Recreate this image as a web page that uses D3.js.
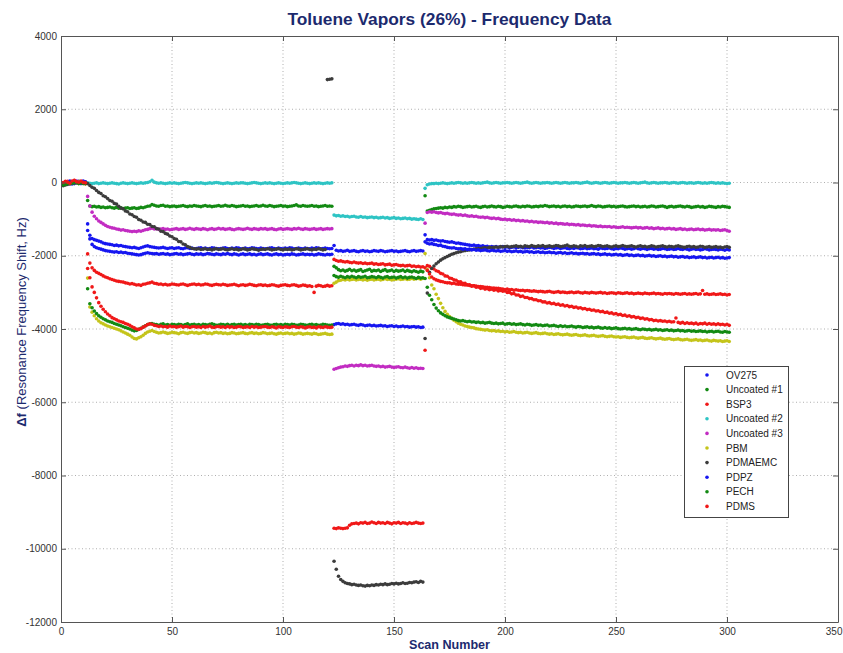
<!DOCTYPE html>
<html><head><meta charset="utf-8">
<script src="https://cdn.jsdelivr.net/npm/d3@7"></script>
<style>body{margin:0;background:#fff} text{font-family:"Liberation Sans",Arial,sans-serif}</style>
</head><body><svg id="c" width="843" height="653"></svg>
<script>
// ---------- DATA (scan numbers 1..301) ----------
const seriesNames = ["OV275","Uncoated #1","BSP3","Uncoated #2","Uncoated #3","PBM","PDMAEMC","PDPZ","PECH","PDMS"];
const seriesColors = ["#1616f0","#138a13","#f01818","#2ec4c4","#c22cc2","#c4c41a","#3c3c3c","#1616f0","#138a13","#f01818"];
const xTicks = [0,50,100,150,200,250,300,350];
const yTicks = [4000,2000,0,-2000,-4000,-6000,-8000,-10000,-12000];

const OV275 = [
-30,-10,20,0,-40,10,30,-20,0,40,-10,
-1130,-1440,-1530,-1560,-1580,-1600,-1620,-1650,-1670,-1680,
-1690,-1700,-1720,-1710,-1730,-1720,-1740,-1750,-1760,-1770,
-1780,-1770,-1790,-1800,-1780,-1760,-1740,-1730,-1750,-1760,
-1770,-1780,-1790,-1780,-1770,-1790,-1800,-1790,-1780,-1800,
-1790,-1780,-1800,-1810,-1790,-1780,-1800,-1790,-1810,-1800,
-1790,-1780,-1800,-1790,-1810,-1800,-1780,-1790,-1800,-1810,
-1800,-1790,-1780,-1800,-1810,-1790,-1800,-1780,-1790,-1810,
-1800,-1790,-1810,-1800,-1780,-1790,-1800,-1810,-1790,-1800,
-1810,-1800,-1790,-1780,-1800,-1810,-1790,-1800,-1810,-1790,
-1800,-1780,-1790,-1810,-1800,-1790,-1800,-1810,-1790,-1800,
-1810,-1790,-1800,-1780,-1790,-1810,-1800,-1790,-1800,-1810,
-1800,
-1720,-1850,-1870,-1860,-1880,-1870,-1850,-1880,-1870,-1860,
-1880,-1890,-1870,-1860,-1880,-1870,-1890,-1880,-1860,-1870,
-1880,-1860,-1870,-1890,-1880,-1870,-1860,-1880,-1870,-1890,
-1880,-1870,-1860,-1880,-1890,-1870,-1860,-1880,-1870,-1860,
-1870,
-1430,
-1560,-1570,-1560,-1580,-1570,-1590,-1600,-1590,-1610,-1620,
-1630,-1620,-1640,-1660,-1650,-1670,-1680,-1690,-1700,-1710,
-1720,-1710,-1730,-1720,-1740,-1730,-1750,-1740,-1760,-1750,
-1760,-1750,-1770,-1760,-1750,-1770,-1760,-1780,-1770,-1760,
-1780,-1770,-1760,-1780,-1790,-1770,-1780,-1760,-1790,-1780,
-1770,-1790,-1780,-1800,-1790,-1770,-1780,-1800,-1790,-1780,
-1800,-1790,-1780,-1800,-1810,-1790,-1800,-1780,-1790,-1810,
-1800,-1790,-1810,-1800,-1790,-1810,-1800,-1820,-1790,-1800,
-1810,-1800,-1790,-1810,-1820,-1800,-1810,-1790,-1800,-1820,
-1810,-1800,-1820,-1810,-1790,-1810,-1820,-1800,-1810,-1830,
-1810,-1800,-1820,-1810,-1830,-1820,-1800,-1810,-1830,-1820,
-1810,-1830,-1820,-1800,-1820,-1830,-1810,-1820,-1840,-1820,
-1810,-1830,-1820,-1840,-1830,-1810,-1820,-1840,-1830,-1820,
-1830,-1840,-1820,-1830,-1850,-1830,-1840
];

const Uncoated1 = [
-60,-40,-20,10,-10,20,0,-30,10,0,-20,
-490,-640,-660,-650,-670,-660,-680,-670,-690,-680,
-670,-690,-700,-680,-700,-690,-710,-700,-690,-710,
-700,-690,-710,-700,-680,-690,-670,-650,-640,-600,
-620,-640,-650,-630,-620,-650,-640,-660,-650,-640,
-660,-650,-640,-630,-650,-660,-640,-650,-630,-640,
-650,-660,-640,-630,-650,-640,-660,-650,-640,-630,
-650,-640,-620,-640,-650,-630,-640,-660,-650,-640,
-630,-650,-640,-660,-650,-640,-630,-650,-640,-620,
-640,-650,-630,-640,-660,-650,-640,-630,-650,-640,
-660,-650,-640,-630,-610,-640,-650,-630,-640,-650,
-640,-630,-650,-640,-660,-650,-640,-630,-650,-640,
-650,
-2290,-2330,-2380,-2410,-2390,-2420,-2400,-2370,-2410,-2390,
-2420,-2400,-2380,-2430,-2410,-2390,-2370,-2420,-2400,-2410,
-2390,-2430,-2400,-2380,-2420,-2410,-2390,-2430,-2400,-2420,
-2410,-2390,-2430,-2400,-2420,-2440,-2410,-2430,-2450,-2420,
-2440,
-360,
-780,-760,-740,-720,-710,-700,-690,-700,-680,-690,
-670,-680,-660,-670,-650,-660,-680,-670,-660,-650,
-670,-660,-650,-670,-680,-660,-650,-670,-660,-640,
-660,-670,-650,-660,-680,-670,-650,-660,-670,-650,
-640,-660,-670,-650,-660,-640,-650,-670,-660,-650,
-660,-640,-650,-630,-640,-660,-650,-640,-660,-650,
-670,-650,-640,-660,-650,-670,-660,-640,-650,-660,
-650,-640,-660,-650,-630,-650,-660,-640,-650,-670,
-660,-650,-640,-660,-650,-670,-660,-650,-640,-660,
-670,-660,-650,-640,-660,-650,-670,-660,-650,-670,
-660,-640,-650,-670,-660,-650,-640,-660,-680,-660,
-650,-670,-660,-650,-640,-660,-670,-650,-660,-680,
-670,-660,-650,-670,-660,-680,-670,-650,-660,-670,
-680,-660,-670,-650,-660,-670,-680
];

const BSP3 = [
-20,10,30,-10,20,50,0,30,-10,20,10,
-1950,-2200,-2330,-2400,-2450,-2480,-2510,-2550,-2580,-2600,
-2630,-2650,-2670,-2690,-2700,-2710,-2720,-2740,-2750,-2770,
-2760,-2780,-2800,-2790,-2810,-2780,-2770,-2750,-2740,-2720,
-2750,-2760,-2780,-2770,-2790,-2780,-2800,-2790,-2770,-2780,
-2790,-2800,-2780,-2770,-2790,-2810,-2790,-2780,-2770,-2790,
-2780,-2800,-2790,-2770,-2780,-2800,-2810,-2790,-2780,-2790,
-2800,-2780,-2790,-2810,-2800,-2790,-2780,-2800,-2820,-2800,
-2790,-2810,-2800,-2780,-2790,-2810,-2820,-2800,-2790,-2810,
-2800,-2820,-2810,-2790,-2800,-2820,-2830,-2810,-2800,-2790,
-2810,-2820,-2800,-2790,-2810,-2830,-2820,-2800,-2810,-2830,
-2820,-2840,-3000,-2830,-2810,-2820,-2840,-2830,-2810,-2830,
-2820,
-2100,-2130,-2150,-2140,-2160,-2170,-2160,-2180,-2190,-2170,
-2190,-2200,-2190,-2210,-2200,-2220,-2210,-2200,-2230,-2220,
-2240,-2230,-2220,-2250,-2240,-2230,-2260,-2250,-2240,-2260,
-2270,-2260,-2280,-2270,-2260,-2290,-2280,-2300,-2290,-2310,
-2300,
-2330,
-2270,-2290,-2340,-2360,-2410,-2430,-2480,-2500,-2550,-2560,
-2610,-2620,-2660,-2670,-2710,-2710,-2750,-2750,-2790,-2790,
-2830,-2820,-2860,-2850,-2890,-2880,-2910,-2900,-2930,-2910,
-2940,-2930,-2960,-2950,-2970,-2960,-3000,-3000,-3040,-3030,
-3070,-3070,-3110,-3100,-3140,-3140,-3170,-3170,-3200,-3200,
-3230,-3230,-3260,-3260,-3290,-3280,-3310,-3300,-3330,-3320,
-3350,-3340,-3370,-3360,-3390,-3380,-3410,-3400,-3430,-3420,
-3450,-3440,-3470,-3460,-3490,-3480,-3510,-3500,-3530,-3520,
-3550,-3540,-3570,-3560,-3590,-3580,-3610,-3600,-3630,-3620,
-3650,-3640,-3670,-3660,-3690,-3680,-3710,-3700,-3730,-3720,
-3750,-3740,-3770,-3760,-3780,-3770,-3790,-3780,-3800,-3790,
-3810,-3800,-3700,-3820,-3840,-3820,-3850,-3830,-3850,-3840,
-3860,-3840,-3870,-3850,-3860,-3840,-3870,-3850,-3870,-3860,
-3880,-3860,-3880,-3870,-3890,-3870,-3900
];

const Uncoated2 = [
0,-20,10,-10,20,0,-10,30,10,-20,0,
-10,-20,-30,-20,-10,-30,-20,-10,-20,-30,
-20,-10,-20,-30,-40,-20,-10,-20,-30,-20,
-10,-20,-30,-20,-10,-20,-10,0,20,60,
10,-10,-20,-10,-20,-30,-20,-10,-20,-10,
-20,-30,-20,-10,0,-10,-20,-30,-20,-10,
-20,-10,-20,-30,-20,-10,-20,-10,0,-10,
-20,-30,-20,-10,-20,-30,-20,-10,-20,-10,
-10,-20,-30,-20,-10,0,-10,-20,-30,-20,
-10,-20,-10,-20,-30,-20,-10,-20,-30,-20,
-10,-20,-10,0,-10,-20,-30,-20,-10,-20,
-30,-20,-10,-20,-10,-20,-30,-20,-10,-20,
-10,
-890,-910,-900,-920,-910,-930,-920,-940,-930,-920,
-940,-950,-930,-950,-940,-960,-950,-940,-960,-950,
-970,-960,-950,-970,-960,-980,-970,-960,-980,-970,
-990,-980,-970,-990,-980,-1000,-990,-1000,-1010,-990,
-1010,
-160,
-60,-40,-30,-30,-20,-30,-20,-10,-20,-30,
-20,-10,-20,-10,0,-10,-20,-10,-20,-10,
0,-10,-20,-10,-20,-10,0,10,-10,-20,
-10,0,-10,-20,-10,-10,0,-10,-20,-10,
0,-10,-20,-10,0,10,-10,-20,-10,0,
-10,-20,-10,-10,0,-10,-20,-10,0,-10,
-20,-10,0,-10,-20,-10,-10,0,-10,-20,
-10,0,10,-10,-20,-10,0,-10,-20,-10,
0,-10,-20,-10,0,-10,-20,-10,-10,0,
-10,-20,-10,0,-10,-20,-10,0,10,-10,
-20,-10,0,-10,-20,-10,-10,0,-10,-20,
-10,0,-10,-20,-10,0,-10,-20,-10,-10,
-20,-10,0,-10,-20,-10,-20,-10,0,-10,
-20,-10,-20,-10,-20,-30,-20
];

const Uncoated3 = [
-40,0,20,-30,10,-10,40,0,-20,10,-30,
-380,-640,-810,-920,-990,-1050,-1090,-1130,-1170,-1200,
-1220,-1240,-1250,-1270,-1280,-1300,-1290,-1310,-1320,-1330,
-1340,-1330,-1340,-1320,-1330,-1310,-1290,-1280,-1260,-1250,
-1270,-1260,-1280,-1270,-1260,-1280,-1270,-1290,-1280,-1270,
-1260,-1280,-1270,-1260,-1280,-1270,-1250,-1270,-1280,-1260,
-1270,-1280,-1260,-1270,-1290,-1270,-1260,-1280,-1270,-1250,
-1270,-1260,-1280,-1270,-1260,-1280,-1290,-1270,-1260,-1270,
-1280,-1270,-1250,-1270,-1280,-1260,-1270,-1280,-1260,-1270,
-1260,-1280,-1270,-1260,-1280,-1290,-1270,-1260,-1280,-1270,
-1260,-1270,-1280,-1260,-1270,-1250,-1270,-1280,-1260,-1270,
-1280,-1270,-1260,-1280,-1270,-1260,-1280,-1270,-1260,-1270,
-1260,
-5100,-5080,-5060,-5040,-5030,-5010,-5020,-5000,-4990,-5010,
-4990,-5000,-4980,-5000,-4990,-5010,-5000,-4990,-5010,-5020,
-5010,-5030,-5020,-5040,-5030,-5020,-5040,-5050,-5040,-5030,
-5050,-5060,-5040,-5060,-5070,-5050,-5070,-5060,-5080,-5070,
-5080,
-1110,
-820,-800,-810,-800,-820,-830,-820,-840,-850,-840,
-860,-870,-860,-880,-890,-880,-900,-890,-910,-920,
-910,-930,-920,-940,-950,-940,-960,-950,-970,-980,
-970,-990,-980,-1000,-1010,-1000,-1020,-1010,-1030,-1020,
-1040,-1030,-1050,-1040,-1060,-1050,-1070,-1060,-1080,-1070,
-1090,-1080,-1090,-1100,-1090,-1110,-1100,-1120,-1110,-1130,
-1120,-1130,-1140,-1130,-1150,-1140,-1150,-1160,-1150,-1170,
-1160,-1170,-1180,-1170,-1190,-1180,-1190,-1200,-1190,-1210,
-1200,-1210,-1200,-1220,-1210,-1220,-1230,-1220,-1210,-1230,
-1220,-1230,-1240,-1230,-1220,-1240,-1230,-1250,-1240,-1230,
-1250,-1240,-1260,-1250,-1240,-1260,-1250,-1270,-1260,-1250,
-1270,-1260,-1280,-1270,-1260,-1280,-1270,-1290,-1280,-1270,
-1290,-1280,-1270,-1290,-1280,-1300,-1290,-1280,-1300,-1290,
-1300,-1290,-1310,-1300,-1290,-1310,-1330
];

const PBM = [
-50,-30,0,-20,10,-10,20,-30,0,-10,-40,
-2610,-3400,-3540,-3640,-3720,-3780,-3830,-3860,-3890,-3920,
-3940,-3960,-3980,-4000,-4020,-4050,-4080,-4110,-4140,-4170,
-4220,-4260,-4270,-4240,-4210,-4170,-4120,-4080,-4060,-4040,
-4070,-4090,-4110,-4100,-4080,-4100,-4120,-4110,-4090,-4100,
-4110,-4130,-4100,-4090,-4110,-4120,-4100,-4090,-4110,-4100,
-4120,-4110,-4090,-4100,-4120,-4110,-4130,-4100,-4090,-4110,
-4100,-4120,-4110,-4130,-4120,-4100,-4110,-4130,-4120,-4110,
-4100,-4120,-4130,-4110,-4100,-4120,-4110,-4130,-4120,-4100,
-4110,-4130,-4120,-4110,-4130,-4140,-4120,-4110,-4130,-4120,
-4110,-4130,-4120,-4140,-4130,-4110,-4120,-4140,-4130,-4120,
-4130,-4140,-4120,-4130,-4150,-4140,-4130,-4120,-4140,-4150,
-4140,
-2750,-2720,-2680,-2670,-2650,-2660,-2640,-2660,-2650,-2640,
-2660,-2650,-2640,-2660,-2650,-2670,-2650,-2640,-2660,-2650,
-2640,-2660,-2650,-2630,-2650,-2640,-2660,-2650,-2640,-2630,
-2650,-2640,-2630,-2650,-2640,-2620,-2640,-2630,-2620,-2640,
-2620,
-1940,
-2380,-2600,-2800,-2900,-3050,-3170,-3300,-3420,-3520,-3600,
-3660,-3710,-3760,-3800,-3840,-3870,-3890,-3920,-3930,-3950,
-3960,-3970,-3990,-4000,-4010,-4020,-4030,-4020,-4040,-4050,
-4040,-4060,-4050,-4070,-4060,-4080,-4070,-4090,-4080,-4070,
-4090,-4100,-4090,-4110,-4100,-4090,-4110,-4120,-4110,-4100,
-4120,-4130,-4120,-4110,-4130,-4140,-4130,-4150,-4140,-4130,
-4150,-4160,-4150,-4140,-4160,-4170,-4160,-4150,-4170,-4180,
-4170,-4160,-4180,-4190,-4180,-4170,-4190,-4200,-4190,-4180,
-4200,-4210,-4200,-4190,-4210,-4220,-4210,-4230,-4220,-4210,
-4230,-4240,-4230,-4220,-4240,-4250,-4240,-4230,-4250,-4260,
-4250,-4240,-4260,-4270,-4260,-4250,-4270,-4280,-4270,-4260,
-4280,-4290,-4280,-4270,-4290,-4300,-4290,-4280,-4300,-4310,
-4300,-4290,-4310,-4300,-4320,-4310,-4300,-4320,-4330,-4310,
-4320,-4330,-4320,-4340,-4330,-4320,-4340
];

const PDMAEMC = [
-90,-70,-50,-40,-20,-30,-10,-20,0,-10,-30,
-30,-80,-130,-160,-220,-270,-300,-360,-390,-440,
-490,-510,-570,-590,-650,-700,-720,-780,-800,-860,
-880,-930,-950,-1010,-1030,-1080,-1090,-1140,-1150,-1200,
-1210,-1260,-1270,-1330,-1340,-1390,-1410,-1460,-1480,-1530,
-1550,-1610,-1620,-1680,-1700,-1750,-1770,-1800,-1810,-1820,
-1810,-1830,-1820,-1810,-1830,-1820,-1840,-1820,-1810,-1830,
-1820,-1810,-1830,-1840,-1820,-1810,-1830,-1820,-1840,-1830,
-1810,-1820,-1840,-1830,-1810,-1820,-1830,-1850,-1830,-1820,
-1830,-1810,-1820,-1840,-1830,-1820,-1810,-1830,-1840,-1820,
-1830,-1820,-1840,-1830,-1810,-1820,-1840,-1830,-1820,-1810,
-1830,-1840,-1820,-1830,-1810,-1820,-1840,-1830,2810,2820,
2830,
-10340,-10560,-10750,-10840,-10890,-10930,-10950,-10960,-10980,-10970,
-10990,-11000,-10990,-11010,-11020,-11000,-11010,-10990,-11000,-10980,
-10990,-10970,-10980,-10960,-10980,-10970,-10950,-10960,-10940,-10960,
-10950,-10930,-10950,-10940,-10920,-10930,-10910,-10900,-10920,-10890,
-10910,
-4260,
-3020,-2450,-2350,-2280,-2220,-2170,-2120,-2080,-2050,-2020,
-1990,-1960,-1940,-1920,-1900,-1890,-1870,-1860,-1850,-1840,
-1830,-1820,-1810,-1800,-1800,-1790,-1780,-1790,-1770,-1780,
-1770,-1760,-1770,-1750,-1760,-1750,-1740,-1760,-1750,-1740,
-1730,-1750,-1740,-1760,-1730,-1740,-1750,-1720,-1740,-1750,
-1730,-1740,-1720,-1750,-1740,-1730,-1750,-1740,-1720,-1730,
-1750,-1740,-1730,-1710,-1740,-1750,-1730,-1740,-1760,-1730,
-1740,-1720,-1750,-1740,-1730,-1750,-1740,-1720,-1730,-1750,
-1740,-1730,-1750,-1760,-1740,-1730,-1750,-1740,-1720,-1740,
-1750,-1740,-1730,-1750,-1760,-1740,-1730,-1750,-1740,-1760,
-1750,-1730,-1740,-1760,-1750,-1740,-1730,-1750,-1760,-1740,
-1750,-1760,-1740,-1730,-1750,-1760,-1770,-1750,-1740,-1760,
-1750,-1770,-1760,-1740,-1750,-1770,-1760,-1750,-1770,-1760,
-1750,-1770,-1760,-1780,-1760,-1750,-1770
];

const PDPZ = [
-20,20,0,40,10,-10,20,0,-30,10,20,
-1310,-1540,-1690,-1750,-1780,-1800,-1820,-1840,-1860,-1870,
-1880,-1890,-1900,-1890,-1910,-1900,-1920,-1910,-1930,-1940,
-1950,-1960,-1970,-1980,-1970,-1950,-1930,-1920,-1930,-1940,
-1950,-1940,-1960,-1950,-1940,-1960,-1950,-1970,-1960,-1950,
-1940,-1960,-1950,-1970,-1960,-1950,-1940,-1960,-1970,-1950,
-1960,-1950,-1970,-1960,-1940,-1950,-1960,-1970,-1950,-1960,
-1970,-1950,-1960,-1940,-1960,-1970,-1950,-1960,-1980,-1960,
-1950,-1970,-1960,-1950,-1970,-1960,-1980,-1960,-1950,-1970,
-1960,-1950,-1970,-1980,-1960,-1950,-1970,-1960,-1980,-1970,
-1960,-1970,-1950,-1960,-1980,-1970,-1960,-1950,-1970,-1960,
-1970,-1960,-1980,-1970,-1950,-1960,-1970,-1980,-1960,-1970,
-1960,
-3880,-3860,-3850,-3870,-3860,-3880,-3870,-3890,-3880,-3870,
-3890,-3900,-3880,-3890,-3910,-3900,-3890,-3910,-3900,-3920,
-3910,-3900,-3920,-3910,-3930,-3920,-3910,-3930,-3920,-3940,
-3930,-3920,-3940,-3930,-3950,-3940,-3930,-3950,-3940,-3960,
-3950,
-1620,
-1660,-1680,-1670,-1690,-1700,-1720,-1710,-1740,-1750,-1770,
-1780,-1790,-1780,-1800,-1810,-1800,-1820,-1810,-1830,-1820,
-1840,-1830,-1850,-1840,-1860,-1850,-1840,-1860,-1870,-1850,
-1860,-1870,-1860,-1880,-1870,-1860,-1880,-1870,-1890,-1880,
-1870,-1890,-1880,-1900,-1890,-1880,-1900,-1890,-1910,-1900,
-1890,-1910,-1900,-1920,-1910,-1900,-1920,-1910,-1930,-1920,
-1910,-1930,-1920,-1940,-1930,-1920,-1940,-1930,-1950,-1940,
-1930,-1950,-1940,-1960,-1950,-1940,-1960,-1950,-1970,-1960,
-1950,-1970,-1960,-1980,-1970,-1960,-1980,-1970,-1990,-1980,
-1970,-1990,-1980,-2000,-1990,-1980,-2000,-1990,-2010,-2000,
-1990,-2010,-2000,-2020,-2010,-2000,-2020,-2010,-2030,-2020,
-2010,-2030,-2020,-2040,-2030,-2020,-2040,-2030,-2050,-2040,
-2030,-2050,-2040,-2030,-2050,-2040,-2060,-2050,-2040,-2060,
-2050,-2040,-2060,-2050,-2070,-2060,-2050
];

const PECH = [
-70,-50,-30,-10,-20,0,10,-20,-10,-30,-10,
-2900,-3310,-3420,-3510,-3580,-3640,-3680,-3720,-3750,-3780,
-3800,-3820,-3850,-3870,-3890,-3910,-3940,-3960,-3980,-4000,
-4030,-4050,-4040,-4010,-3980,-3950,-3910,-3880,-3860,-3850,
-3870,-3880,-3900,-3870,-3860,-3890,-3880,-3900,-3870,-3880,
-3890,-3870,-3880,-3900,-3880,-3860,-3890,-3880,-3870,-3890,
-3880,-3900,-3870,-3880,-3890,-3870,-3860,-3880,-3900,-3890,
-3870,-3880,-3890,-3870,-3900,-3880,-3870,-3890,-3880,-3870,
-3890,-3880,-3900,-3870,-3880,-3890,-3870,-3880,-3900,-3890,
-3880,-3870,-3890,-3900,-3880,-3870,-3890,-3880,-3900,-3870,
-3880,-3890,-3870,-3880,-3900,-3890,-3870,-3880,-3890,-3900,
-3880,-3870,-3890,-3880,-3900,-3890,-3870,-3880,-3890,-3900,
-3890,
-2540,-2570,-2590,-2560,-2580,-2600,-2570,-2590,-2560,-2580,
-2600,-2570,-2590,-2580,-2560,-2600,-2590,-2570,-2580,-2600,
-2570,-2590,-2610,-2580,-2570,-2600,-2590,-2580,-2610,-2590,
-2570,-2600,-2580,-2610,-2590,-2580,-2600,-2620,-2590,-2610,
-2600,
-2620,
-2860,-3080,-3200,-3330,-3430,-3500,-3560,-3600,-3640,-3670,
-3690,-3710,-3730,-3750,-3770,-3780,-3770,-3790,-3800,-3790,
-3810,-3800,-3820,-3810,-3830,-3820,-3840,-3830,-3820,-3840,
-3850,-3840,-3860,-3850,-3840,-3870,-3860,-3850,-3870,-3860,
-3880,-3870,-3860,-3880,-3890,-3870,-3880,-3900,-3890,-3880,
-3900,-3890,-3910,-3900,-3890,-3920,-3910,-3900,-3920,-3930,
-3910,-3930,-3920,-3940,-3930,-3920,-3940,-3950,-3930,-3940,
-3960,-3950,-3940,-3960,-3950,-3970,-3960,-3950,-3970,-3980,
-3960,-3980,-3970,-3990,-3980,-3970,-3990,-4000,-3990,-3980,
-4000,-3990,-4010,-4000,-3990,-4010,-4020,-4000,-4010,-4020,
-4010,-4030,-4020,-4010,-4030,-4020,-4040,-4030,-4020,-4040,
-4030,-4050,-4040,-4030,-4050,-4040,-4060,-4050,-4040,-4060,
-4050,-4070,-4060,-4050,-4070,-4060,-4080,-4070,-4060,-4080,
-4070,-4060,-4080,-4090,-4070,-4080,-4090
];

const PDMS = [
0,30,10,-20,40,60,20,10,40,0,-10,
-2350,-2600,-2850,-3000,-3150,-3280,-3380,-3460,-3530,-3590,
-3640,-3690,-3720,-3750,-3780,-3800,-3820,-3850,-3870,-3900,
-3940,-3970,-4000,-4010,-3990,-3950,-3920,-3880,-3860,-3870,
-3900,-3910,-3930,-3920,-3940,-3930,-3950,-3920,-3940,-3930,
-3950,-3940,-3920,-3950,-3930,-3940,-3960,-3940,-3930,-3950,
-3940,-3960,-3930,-3950,-3940,-3920,-3950,-3960,-3940,-3930,
-3950,-3940,-3960,-3930,-3950,-3940,-3960,-3950,-3930,-3940,
-3960,-3950,-3940,-3960,-3930,-3950,-3940,-3960,-3950,-3940,
-3930,-3950,-3960,-3940,-3950,-3970,-3940,-3950,-3960,-3940,
-3950,-3960,-3940,-3930,-3950,-3960,-3940,-3950,-3970,-3950,
-3940,-3960,-3950,-3970,-3940,-3950,-3960,-3940,-3950,-3960,
-3950,
-9440,-9450,-9430,-9440,-9450,-9440,-9430,-9360,-9320,-9310,
-9300,-9320,-9290,-9300,-9280,-9310,-9300,-9270,-9290,-9310,
-9280,-9300,-9290,-9310,-9280,-9300,-9320,-9290,-9300,-9280,
-9310,-9290,-9300,-9320,-9290,-9310,-9300,-9280,-9300,-9310,
-9300,
-4580,
-2400,-2500,-2580,-2630,-2660,-2680,-2700,-2710,-2730,-2740,
-2740,-2760,-2750,-2770,-2780,-2780,-2790,-2800,-2800,-2810,
-2820,-2820,-2830,-2840,-2840,-2850,-2860,-2860,-2870,-2880,
-2880,-2890,-2890,-2900,-2910,-2920,-2910,-2930,-2920,-2940,
-2930,-2940,-2950,-2940,-2960,-2950,-2960,-2970,-2960,-2970,
-2980,-2970,-2980,-2990,-2980,-2970,-2990,-3000,-2990,-2980,
-3000,-2990,-3000,-3010,-3000,-2990,-3010,-3000,-2990,-3010,
-3020,-3000,-3010,-3020,-3000,-3010,-3020,-3010,-3000,-3020,
-3010,-3030,-3020,-3010,-3020,-3030,-3010,-3020,-3030,-3020,
-3010,-3030,-3020,-3040,-3030,-3020,-3030,-3040,-3020,-3030,
-3040,-3030,-3020,-3040,-3030,-3040,-3050,-3030,-3040,-3030,
-3040,-3050,-3030,-3040,-3050,-3040,-3030,-3050,-3040,-3050,
-3040,-3030,-3050,-3040,-2950,-3050,-3040,-3060,-3050,-3040,
-3060,-3050,-3040,-3060,-3050,-3070,-3060
];

const seriesValues = [OV275, Uncoated1, BSP3, Uncoated2, Uncoated3, PBM, PDMAEMC, PDPZ, PECH, PDMS];

// ---------- CHART ----------
const svg = d3.select("#c");
const L = 61, R = 838, T = 36, B = 622;
const x = d3.scaleLinear().domain([0, 350]).range([L, R]);
const y = d3.scaleLinear().domain([-12000, 4000]).range([B, T]);
const navy = "#1c2a6e";
const fmt = d => String(d);

svg.append("rect").attr("x", 0).attr("y", 0).attr("width", 843).attr("height", 653).attr("fill", "#fff");

// grid
const grid = svg.append("g").attr("stroke", "#9a9a9a").attr("stroke-width", 0.8).attr("stroke-dasharray", "1,2.5");
grid.selectAll(".gx").data(xTicks.slice(1, -1)).join("line")
  .attr("x1", d => x(d)).attr("x2", d => x(d)).attr("y1", T).attr("y2", B);
grid.selectAll(".gy").data(yTicks.slice(1, -1)).join("line")
  .attr("y1", d => y(d)).attr("y2", d => y(d)).attr("x1", L).attr("x2", R);

// data points
seriesValues.forEach((vals, si) => {
  if (vals.length !== 301) throw new Error(seriesNames[si] + " length " + vals.length);
  svg.append("g").attr("fill", seriesColors[si])
    .selectAll("circle").data(vals.map((v, i) => [i + 1, v])).join("circle")
    .attr("cx", d => x(d[0])).attr("cy", d => y(d[1])).attr("r", 1.8);
});

// axes
function styleAxis(g) {
  g.select(".domain").attr("stroke", "#555");
  g.selectAll(".tick line").attr("stroke", "#555");
  g.selectAll(".tick text").attr("fill", "#333").style("font-size", "10px");
}
const xAxisG = svg.append("g").attr("transform", `translate(0,${B})`)
  .call(d3.axisBottom(x).tickValues(xTicks).tickSize(-5).tickSizeOuter(0).tickPadding(6).tickFormat(fmt)).call(styleAxis);
// keep the last label ("350") inside the picture edge
xAxisG.selectAll(".tick text").filter(d => d === 350).attr("text-anchor", "end").attr("x", 4);
svg.append("g").attr("transform", `translate(0,${T})`)
  .call(d3.axisTop(x).tickValues(xTicks).tickSize(-5).tickSizeOuter(0).tickFormat("")).call(styleAxis);
svg.append("g").attr("transform", `translate(${L},0)`)
  .call(d3.axisLeft(y).tickValues(yTicks).tickSize(-5).tickSizeOuter(0).tickPadding(4).tickFormat(fmt)).call(styleAxis);
svg.append("g").attr("transform", `translate(${R},0)`)
  .call(d3.axisRight(y).tickValues(yTicks).tickSize(-5).tickSizeOuter(0).tickFormat("")).call(styleAxis);

// titles
svg.append("text").attr("x", (L + R) / 2).attr("y", 25).attr("text-anchor", "middle")
  .attr("fill", navy).style("font-size", "17px").style("font-weight", "bold")
  .attr("textLength", 324).attr("lengthAdjust", "spacingAndGlyphs")
  .text("Toluene Vapors (26%) - Frequency Data");
svg.append("text").attr("x", (L + R) / 2).attr("y", 649).attr("text-anchor", "middle")
  .attr("fill", navy).style("font-size", "13px").style("font-weight", "bold")
  .attr("textLength", 81).attr("lengthAdjust", "spacingAndGlyphs")
  .text("Scan Number");
const yl = svg.append("text").attr("transform", `translate(26,322) rotate(-90)`).attr("text-anchor", "middle")
  .attr("fill", navy).style("font-size", "13px");
yl.append("tspan").style("font-weight", "bold").text("Δf");
yl.append("tspan").text(" (Resonance Frequency Shift, Hz)");

// legend
const lg = svg.append("g");
lg.append("rect").attr("x", 684.5).attr("y", 366.5).attr("width", 104).attr("height", 151)
  .attr("fill", "#fff").attr("stroke", "#444").attr("stroke-width", 1);
seriesNames.forEach((n, i) => {
  const yy = 375 + i * 14.6;
  lg.append("circle").attr("cx", 707).attr("cy", yy).attr("r", 1.8).attr("fill", seriesColors[i]);
  lg.append("text").attr("x", 726).attr("y", yy + 3.6).attr("fill", "#222").style("font-size", "10px").text(n);
});
</script></body></html>
